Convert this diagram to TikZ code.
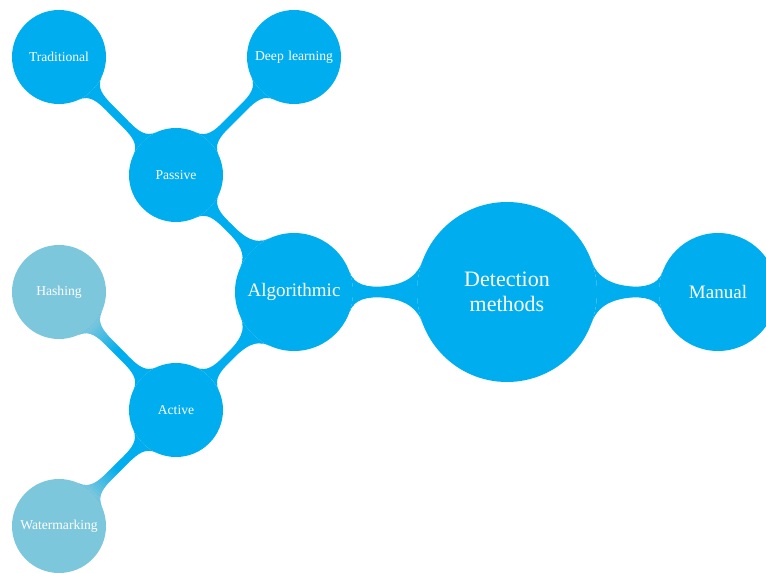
\documentclass[tikz,border=0pt]{standalone}
\usepackage{fontspec}
\setmainfont{Liberation Serif}
\usetikzlibrary{mindmap}
\definecolor{mapblue}{RGB}{0,174,239}
\definecolor{maplight}{RGB}{125,199,221}
\tikzset{
  idea/.style={circle, fill=#1, text=white, inner sep=0pt, outer sep=0pt, align=center},
  rootidea/.style={idea=mapblue, minimum size=180pt, text width=160pt,
    font=\fontsize{22}{24.5}\selectfont},
  mainidea/.style={idea=mapblue, minimum size=118pt, text width=110pt,
    font=\fontsize{19}{22}\selectfont},
  subidea/.style={idea=#1, minimum size=94pt, text width=90pt,
    font=\fontsize{13.6}{16}\selectfont},
  subidea/.default=mapblue,
  barlink/.style n args={3}{line width=#1,
    circle connection bar switch color=from (#2) to (#3)},
}
\begin{document}
\begin{tikzpicture}[x=1pt,y=1pt]
  \useasboundingbox (0,-573) rectangle (766,0);
  \clip (0,-573) rectangle (766,0);

  % concepts
  \node[rootidea] (det) at (507,-292) {Detection\\methods};
  \node[mainidea] (man) at (718,-292) {Manual};
  \node[mainidea] (alg) at (294,-292) {Algorithmic};
  \node[subidea] (pas) at (176,-175) {Passive};
  \node[subidea] (act) at (176,-410) {Active};
  \node[subidea] (tra) at (59,-57) {Traditional};
  \node[subidea] (dee) at (294,-57) {Deep learning};
  \node[subidea=maplight] (has) at (59,-292) {Hashing};
  \node[subidea=maplight] (wat) at (59,-526) {Watermarking};

  % connections
  \path (det) to[barlink={10pt}{mapblue}{mapblue}] (man);
  \path (det) to[barlink={10pt}{mapblue}{mapblue}] (alg);
  \path (alg) to[barlink={8pt}{mapblue}{mapblue}] (pas);
  \path (alg) to[barlink={8pt}{mapblue}{mapblue}] (act);
  \path (pas) to[barlink={6pt}{mapblue}{mapblue}] (tra);
  \path (pas) to[barlink={6pt}{mapblue}{mapblue}] (dee);
  \path (act) to[barlink={6pt}{mapblue}{mapblue}] (has);
  \path (act) to[barlink={6pt}{mapblue}{mapblue}] (wat);

  % the far half of each bar fades into the light concept colour
  \foreach \ang/\mx/\my/\tgt in {135/117.5/-351/has, 224.8/117.5/-468/wat} {
    \foreach \i [evaluate=\i as \op using (\i+0.5)/18] in {0,...,17} {
      \begin{scope}
        \clip[shift={(\mx,\my)}, rotate=\ang] (2*\i,-60) rectangle (2*\i+2,60);
        \path[opacity=\op] (act) to[barlink={6pt}{maplight}{maplight}] (\tgt);
      \end{scope}
    }
    \begin{scope}
      \clip[shift={(\mx,\my)}, rotate=\ang] (36,-60) rectangle (120,60);
      \path (act) to[barlink={6pt}{maplight}{maplight}] (\tgt);
    \end{scope}
  }
\end{tikzpicture}
\end{document}
